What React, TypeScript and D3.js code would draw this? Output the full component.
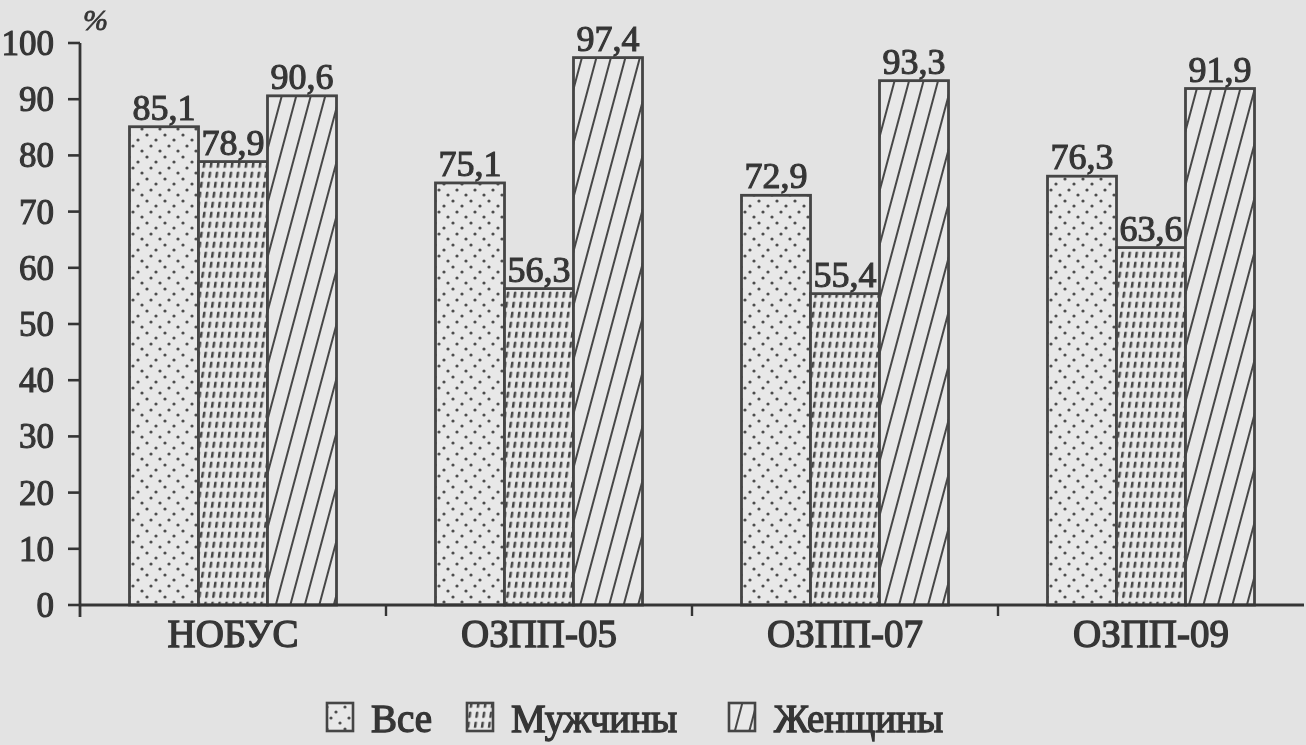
import React from "react";
import * as d3 from "d3";

// Survey groups, series and values (percent)
const categories = ["НОБУС", "ОЗПП-05", "ОЗПП-07", "ОЗПП-09"];
const seriesNames = ["Все", "Мужчины", "Женщины"];
const allValues = [85.1, 75.1, 72.9, 76.3];
const menValues = [78.9, 56.3, 55.4, 63.6];
const womenValues = [90.6, 97.4, 93.3, 91.9];
const yTicks = [0, 10, 20, 30, 40, 50, 60, 70, 80, 90, 100];

const W = 1306;
const H = 745;
const X0 = 80;
const X1 = 1304;
const Y0 = 605;
const Y1 = 43;

const INK = "#363636";
const BG = "#e3e3e3";
const BAR_BG = "#e8e8e8";
const FONT = "'Liberation Serif', 'Times New Roman', serif";

const fmt = (v: number) => v.toFixed(1).replace(".", ",");

export default function App() {
  const x0 = d3.scaleBand<string>().domain(categories).range([X0, X1]).padding(0);
  const step = x0.bandwidth();
  const groupW = 207;
  const x1 = d3
    .scaleBand<string>()
    .domain(seriesNames)
    .range([(step - groupW) / 2, (step + groupW) / 2])
    .padding(0);
  const y = d3.scaleLinear().domain([0, 100]).range([Y0, Y1]);

  const seriesValues = [allValues, menValues, womenValues];
  const patternIds = ["pat-dots", "pat-dash", "pat-hatch"];

  const bars = categories.flatMap((c, ci) =>
    seriesNames.map((s, si) => ({
      key: `${c}-${s}`,
      x: (x0(c) ?? 0) + (x1(s) ?? 0),
      w: x1.bandwidth(),
      v: seriesValues[si][ci],
      pat: patternIds[si],
    }))
  );

  // legend layout: swatch x, text x
  const legend = [
    { name: seriesNames[0], sx: 327, tx: 371, pat: patternIds[0] },
    { name: seriesNames[1], sx: 467, tx: 511, pat: patternIds[1] },
    { name: seriesNames[2], sx: 729, tx: 774, pat: patternIds[2] },
  ];

  const textProps = { fill: INK, stroke: INK, strokeWidth: 1.1 };

  return (
    <svg
      width={W}
      height={H}
      style={{ position: "absolute", left: 0, top: 0, background: BG }}
      fontFamily={FONT}
    >
      <defs>
        <pattern id="pat-dots" patternUnits="userSpaceOnUse" width="18" height="22">
          <rect width="18" height="22" fill={BAR_BG} />
          <circle cx="3" cy="3" r="1.6" fill="#4d4d4d" />
          <circle cx="12" cy="8" r="1.6" fill="#4d4d4d" />
          <circle cx="7" cy="14" r="1.6" fill="#4d4d4d" />
          <circle cx="16" cy="19" r="1.6" fill="#4d4d4d" />
        </pattern>
        <pattern
          id="pat-dash"
          patternUnits="userSpaceOnUse"
          width="7"
          height="10"
          patternTransform="skewX(-8)"
        >
          <rect width="7" height="10" fill={BAR_BG} />
          <rect x="2" y="1.5" width="2.5" height="6.5" rx="1" fill="#464646" />
        </pattern>
        <pattern
          id="pat-hatch"
          patternUnits="userSpaceOnUse"
          width="14"
          height="14"
          patternTransform="rotate(15)"
        >
          <rect width="14" height="14" fill={BAR_BG} />
          <line x1="3" y1="-1" x2="3" y2="15" stroke="#474747" strokeWidth="2" />
        </pattern>
        <filter id="soft" x="-2%" y="-2%" width="104%" height="104%">
          <feGaussianBlur stdDeviation="0.55" />
        </filter>
      </defs>

      <g filter="url(#soft)">
        {/* bars */}
        {bars.map((b) => (
          <rect
            key={b.key}
            x={b.x}
            y={y(b.v)}
            width={b.w}
            height={Y0 - y(b.v)}
            fill={`url(#${b.pat})`}
            stroke="#444"
            strokeWidth={2.8}
          />
        ))}

        {/* value labels */}
        {bars.map((b) => (
          <text
            key={`l-${b.key}`}
            x={b.x + b.w / 2}
            y={y(b.v) - 7}
            textAnchor="middle"
            fontSize={36}
            {...textProps}
          >
            {fmt(b.v)}
          </text>
        ))}

        {/* y axis */}
        <line x1={X0} x2={X0} y1={y(100)} y2={Y0 + 12} stroke={INK} strokeWidth={2.8} />
        {yTicks.map((t) => (
          <g key={`yt-${t}`}>
            <line x1={X0 - 12} x2={X0} y1={y(t)} y2={y(t)} stroke={INK} strokeWidth={2.6} />
            <text x={54} y={y(t) + 12} textAnchor="end" fontSize={35} {...textProps}>
              {t}
            </text>
          </g>
        ))}
        <text x={83} y={30} fontSize={30} fontStyle="italic" {...textProps} strokeWidth={0.8}>
          %
        </text>

        {/* x axis */}
        <line x1={X0} x2={X1} y1={Y0} y2={Y0} stroke={INK} strokeWidth={2.8} />
        {categories.slice(1).map((c) => (
          <line
            key={`xt-${c}`}
            x1={x0(c)}
            x2={x0(c)}
            y1={Y0}
            y2={Y0 + 11}
            stroke={INK}
            strokeWidth={2.4}
          />
        ))}
        {categories.map((c) => (
          <text
            key={`xl-${c}`}
            x={(x0(c) ?? 0) + step / 2}
            y={647}
            textAnchor="middle"
            fontSize={39}
            {...textProps}
            strokeWidth={1.3}
          >
            {c}
          </text>
        ))}

        {/* legend */}
        {legend.map((l) => (
          <g key={`lg-${l.name}`}>
            <rect
              x={l.sx}
              y={703}
              width={26}
              height={28}
              fill={`url(#${l.pat})`}
              stroke="#444"
              strokeWidth={2.6}
            />
            <text x={l.tx} y={732} fontSize={39} {...textProps} strokeWidth={1.3}>
              {l.name}
            </text>
          </g>
        ))}
      </g>
    </svg>
  );
}
